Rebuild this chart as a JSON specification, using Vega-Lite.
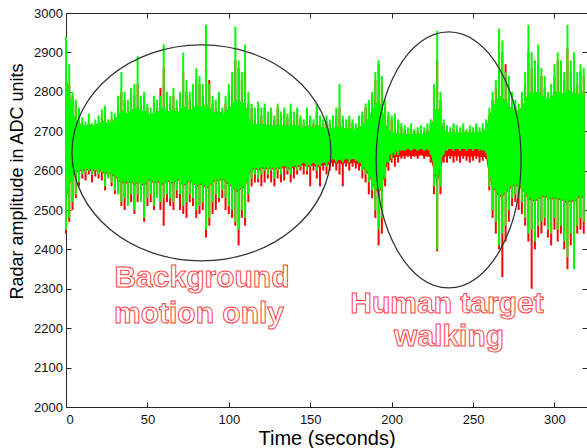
{
  "$schema": "https://vega.github.io/schema/vega-lite/v6.json",
  "width": 521,
  "height": 394,
  "autosize": {"type": "none"},
  "padding": {"left": 66, "top": 13, "right": 0, "bottom": 41},
  "background": "white",
  "config": {
    "view": {"stroke": null},
    "font": "Liberation Sans",
    "axis": {"grid": false, "domainColor": "#262626", "tickColor": "#262626", "labelColor": "#111", "labelFont": "Liberation Sans", "titleFont": "Liberation Sans", "labelFontSize": 13, "titleColor": "#000", "titleFontWeight": "normal", "domainWidth": 1, "tickWidth": 1}
  },
  "datasets": {
    "sig": [
      {"t":0,"gl":2450,"gh":2940,"rl":2440,"rh":2900,"cl":2530,"ch":2840,"rcl":2526},
      {"t":2,"gl":2480,"gh":2870,"rl":2470,"rh":2820,"cl":2560,"ch":2800,"rcl":2557},
      {"t":4,"gl":2520,"gh":2800,"rl":2500,"rh":2790,"cl":2590,"ch":2750,"rcl":2587},
      {"t":6,"gl":2540,"gh":2780,"rl":2530,"rh":2770,"cl":2598,"ch":2728,"rcl":2595},
      {"t":8,"gl":2570,"gh":2760,"rl":2560,"rh":2740,"cl":2600,"ch":2722,"rcl":2597},
      {"t":10,"gl":2590,"gh":2735,"rl":2580,"rh":2720,"cl":2604,"ch":2716,"rcl":2600},
      {"t":12,"gl":2595,"gh":2725,"rl":2575,"rh":2700,"cl":2602,"ch":2712,"rcl":2599},
      {"t":14,"gl":2600,"gh":2745,"rl":2590,"rh":2720,"cl":2606,"ch":2720,"rcl":2603},
      {"t":16,"gl":2590,"gh":2720,"rl":2570,"rh":2710,"cl":2600,"ch":2712,"rcl":2596},
      {"t":18,"gl":2600,"gh":2730,"rl":2585,"rh":2715,"cl":2605,"ch":2716,"rcl":2602},
      {"t":20,"gl":2590,"gh":2740,"rl":2580,"rh":2720,"cl":2598,"ch":2720,"rcl":2595},
      {"t":22,"gl":2595,"gh":2755,"rl":2575,"rh":2735,"cl":2602,"ch":2724,"rcl":2599},
      {"t":24,"gl":2560,"gh":2765,"rl":2550,"rh":2740,"cl":2592,"ch":2726,"rcl":2588},
      {"t":26,"gl":2580,"gh":2730,"rl":2585,"rh":2720,"cl":2598,"ch":2718,"rcl":2595},
      {"t":28,"gl":2570,"gh":2750,"rl":2560,"rh":2730,"cl":2592,"ch":2726,"rcl":2589},
      {"t":30,"gl":2550,"gh":2745,"rl":2540,"rh":2725,"cl":2588,"ch":2728,"rcl":2584},
      {"t":32,"gl":2540,"gh":2790,"rl":2545,"rh":2760,"cl":2578,"ch":2742,"rcl":2575},
      {"t":34,"gl":2520,"gh":2850,"rl":2510,"rh":2800,"cl":2570,"ch":2752,"rcl":2567},
      {"t":36,"gl":2530,"gh":2800,"rl":2500,"rh":2780,"cl":2574,"ch":2748,"rcl":2570},
      {"t":38,"gl":2510,"gh":2780,"rl":2530,"rh":2760,"cl":2568,"ch":2744,"rcl":2565},
      {"t":40,"gl":2540,"gh":2810,"rl":2520,"rh":2795,"cl":2576,"ch":2754,"rcl":2573},
      {"t":42,"gl":2500,"gh":2820,"rl":2490,"rh":2790,"cl":2566,"ch":2756,"rcl":2562},
      {"t":44,"gl":2540,"gh":2890,"rl":2520,"rh":2820,"cl":2572,"ch":2760,"rcl":2569},
      {"t":46,"gl":2520,"gh":2790,"rl":2530,"rh":2770,"cl":2570,"ch":2750,"rcl":2567},
      {"t":48,"gl":2480,"gh":2800,"rl":2470,"rh":2790,"cl":2562,"ch":2754,"rcl":2558},
      {"t":50,"gl":2530,"gh":2770,"rl":2510,"rh":2760,"cl":2576,"ch":2746,"rcl":2573},
      {"t":52,"gl":2540,"gh":2760,"rl":2520,"rh":2740,"cl":2580,"ch":2742,"rcl":2577},
      {"t":54,"gl":2510,"gh":2790,"rl":2500,"rh":2775,"cl":2568,"ch":2750,"rcl":2564},
      {"t":56,"gl":2530,"gh":2780,"rl":2540,"rh":2760,"cl":2574,"ch":2748,"rcl":2571},
      {"t":58,"gl":2520,"gh":2790,"rl":2500,"rh":2810,"cl":2570,"ch":2752,"rcl":2567},
      {"t":60,"gl":2530,"gh":2920,"rl":2460,"rh":2860,"cl":2566,"ch":2762,"rcl":2562},
      {"t":62,"gl":2540,"gh":2800,"rl":2520,"rh":2780,"cl":2576,"ch":2752,"rcl":2573},
      {"t":64,"gl":2530,"gh":2790,"rl":2510,"rh":2770,"cl":2572,"ch":2750,"rcl":2569},
      {"t":66,"gl":2520,"gh":2810,"rl":2500,"rh":2790,"cl":2568,"ch":2756,"rcl":2564},
      {"t":68,"gl":2550,"gh":2780,"rl":2530,"rh":2760,"cl":2580,"ch":2746,"rcl":2577},
      {"t":70,"gl":2540,"gh":2800,"rl":2500,"rh":2790,"cl":2574,"ch":2752,"rcl":2571},
      {"t":72,"gl":2510,"gh":2900,"rl":2490,"rh":2850,"cl":2564,"ch":2764,"rcl":2560},
      {"t":74,"gl":2520,"gh":2830,"rl":2480,"rh":2800,"cl":2568,"ch":2758,"rcl":2565},
      {"t":76,"gl":2540,"gh":2800,"rl":2520,"rh":2780,"cl":2576,"ch":2752,"rcl":2573},
      {"t":78,"gl":2530,"gh":2820,"rl":2510,"rh":2790,"cl":2572,"ch":2758,"rcl":2569},
      {"t":80,"gl":2500,"gh":2860,"rl":2480,"rh":2830,"cl":2562,"ch":2766,"rcl":2558},
      {"t":82,"gl":2510,"gh":2840,"rl":2490,"rh":2820,"cl":2566,"ch":2764,"rcl":2563},
      {"t":84,"gl":2520,"gh":2820,"rl":2500,"rh":2790,"cl":2568,"ch":2760,"rcl":2565},
      {"t":86,"gl":2450,"gh":2970,"rl":2430,"rh":2880,"cl":2556,"ch":2772,"rcl":2552},
      {"t":88,"gl":2480,"gh":2820,"rl":2460,"rh":2830,"cl":2562,"ch":2760,"rcl":2559},
      {"t":90,"gl":2520,"gh":2790,"rl":2490,"rh":2770,"cl":2572,"ch":2750,"rcl":2569},
      {"t":92,"gl":2540,"gh":2780,"rl":2500,"rh":2760,"cl":2578,"ch":2746,"rcl":2575},
      {"t":94,"gl":2530,"gh":2800,"rl":2520,"rh":2790,"cl":2574,"ch":2752,"rcl":2571},
      {"t":96,"gl":2550,"gh":2760,"rl":2530,"rh":2750,"cl":2582,"ch":2742,"rcl":2579},
      {"t":98,"gl":2530,"gh":2790,"rl":2500,"rh":2770,"cl":2574,"ch":2750,"rcl":2570},
      {"t":100,"gl":2510,"gh":2820,"rl":2490,"rh":2800,"cl":2566,"ch":2758,"rcl":2563},
      {"t":102,"gl":2500,"gh":2850,"rl":2480,"rh":2810,"cl":2560,"ch":2766,"rcl":2557},
      {"t":104,"gl":2470,"gh":2965,"rl":2460,"rh":2880,"cl":2552,"ch":2778,"rcl":2548},
      {"t":106,"gl":2450,"gh":2880,"rl":2410,"rh":2860,"cl":2548,"ch":2780,"rcl":2545},
      {"t":108,"gl":2500,"gh":2850,"rl":2480,"rh":2830,"cl":2560,"ch":2770,"rcl":2557},
      {"t":110,"gl":2480,"gh":2920,"rl":2460,"rh":2850,"cl":2558,"ch":2772,"rcl":2554},
      {"t":112,"gl":2540,"gh":2800,"rl":2520,"rh":2770,"cl":2588,"ch":2738,"rcl":2585},
      {"t":114,"gl":2580,"gh":2770,"rl":2560,"rh":2760,"cl":2604,"ch":2720,"rcl":2600},
      {"t":116,"gl":2590,"gh":2760,"rl":2570,"rh":2745,"cl":2608,"ch":2716,"rcl":2604},
      {"t":118,"gl":2580,"gh":2775,"rl":2570,"rh":2760,"cl":2604,"ch":2720,"rcl":2600},
      {"t":120,"gl":2590,"gh":2760,"rl":2560,"rh":2740,"cl":2608,"ch":2716,"rcl":2603},
      {"t":122,"gl":2600,"gh":2770,"rl":2570,"rh":2760,"cl":2610,"ch":2718,"rcl":2606},
      {"t":124,"gl":2590,"gh":2750,"rl":2580,"rh":2740,"cl":2606,"ch":2714,"rcl":2602},
      {"t":126,"gl":2600,"gh":2760,"rl":2570,"rh":2750,"cl":2610,"ch":2716,"rcl":2606},
      {"t":128,"gl":2580,"gh":2740,"rl":2560,"rh":2730,"cl":2604,"ch":2712,"rcl":2600},
      {"t":130,"gl":2600,"gh":2770,"rl":2580,"rh":2760,"cl":2610,"ch":2718,"rcl":2606},
      {"t":132,"gl":2590,"gh":2750,"rl":2570,"rh":2740,"cl":2606,"ch":2714,"rcl":2602},
      {"t":134,"gl":2610,"gh":2760,"rl":2575,"rh":2745,"cl":2614,"ch":2716,"rcl":2609},
      {"t":136,"gl":2600,"gh":2745,"rl":2590,"rh":2735,"cl":2610,"ch":2712,"rcl":2606},
      {"t":138,"gl":2590,"gh":2770,"rl":2570,"rh":2750,"cl":2606,"ch":2718,"rcl":2602},
      {"t":140,"gl":2610,"gh":2750,"rl":2580,"rh":2740,"cl":2614,"ch":2714,"rcl":2609},
      {"t":142,"gl":2600,"gh":2760,"rl":2590,"rh":2745,"cl":2612,"ch":2716,"rcl":2608},
      {"t":144,"gl":2610,"gh":2740,"rl":2600,"rh":2730,"cl":2616,"ch":2712,"rcl":2611},
      {"t":146,"gl":2620,"gh":2730,"rl":2590,"rh":2720,"cl":2620,"ch":2708,"rcl":2614},
      {"t":148,"gl":2600,"gh":2760,"rl":2590,"rh":2750,"cl":2612,"ch":2716,"rcl":2608},
      {"t":150,"gl":2610,"gh":2740,"rl":2560,"rh":2730,"cl":2616,"ch":2712,"rcl":2610},
      {"t":152,"gl":2620,"gh":2730,"rl":2600,"rh":2720,"cl":2620,"ch":2708,"rcl":2614},
      {"t":154,"gl":2600,"gh":2770,"rl":2580,"rh":2750,"cl":2612,"ch":2718,"rcl":2607},
      {"t":156,"gl":2610,"gh":2740,"rl":2560,"rh":2730,"cl":2616,"ch":2712,"rcl":2610},
      {"t":158,"gl":2620,"gh":2730,"rl":2600,"rh":2720,"cl":2620,"ch":2708,"rcl":2614},
      {"t":160,"gl":2610,"gh":2740,"rl":2590,"rh":2725,"cl":2620,"ch":2710,"rcl":2613},
      {"t":162,"gl":2620,"gh":2730,"rl":2600,"rh":2720,"cl":2624,"ch":2706,"rcl":2617},
      {"t":164,"gl":2630,"gh":2740,"rl":2610,"rh":2730,"cl":2630,"ch":2708,"rcl":2621},
      {"t":166,"gl":2620,"gh":2760,"rl":2600,"rh":2740,"cl":2624,"ch":2710,"rcl":2616},
      {"t":168,"gl":2630,"gh":2820,"rl":2590,"rh":2760,"cl":2628,"ch":2714,"rcl":2620},
      {"t":170,"gl":2620,"gh":2740,"rl":2560,"rh":2730,"cl":2624,"ch":2708,"rcl":2615},
      {"t":172,"gl":2630,"gh":2730,"rl":2610,"rh":2720,"cl":2630,"ch":2706,"rcl":2621},
      {"t":174,"gl":2620,"gh":2740,"rl":2600,"rh":2730,"cl":2626,"ch":2708,"rcl":2617},
      {"t":176,"gl":2630,"gh":2730,"rl":2610,"rh":2720,"cl":2630,"ch":2706,"rcl":2620},
      {"t":178,"gl":2625,"gh":2720,"rl":2605,"rh":2710,"cl":2628,"ch":2704,"rcl":2619},
      {"t":180,"gl":2620,"gh":2740,"rl":2600,"rh":2730,"cl":2622,"ch":2710,"rcl":2614},
      {"t":182,"gl":2600,"gh":2750,"rl":2580,"rh":2740,"cl":2614,"ch":2716,"rcl":2608},
      {"t":184,"gl":2590,"gh":2770,"rl":2570,"rh":2760,"cl":2604,"ch":2724,"rcl":2599},
      {"t":186,"gl":2570,"gh":2780,"rl":2540,"rh":2770,"cl":2592,"ch":2734,"rcl":2588},
      {"t":188,"gl":2550,"gh":2800,"rl":2530,"rh":2790,"cl":2572,"ch":2752,"rcl":2568},
      {"t":190,"gl":2500,"gh":2850,"rl":2480,"rh":2830,"cl":2556,"ch":2768,"rcl":2552},
      {"t":192,"gl":2450,"gh":2880,"rl":2410,"rh":2870,"cl":2546,"ch":2778,"rcl":2542},
      {"t":194,"gl":2480,"gh":2840,"rl":2440,"rh":2820,"cl":2558,"ch":2762,"rcl":2554},
      {"t":196,"gl":2580,"gh":2780,"rl":2560,"rh":2760,"cl":2606,"ch":2720,"rcl":2598},
      {"t":198,"gl":2620,"gh":2750,"rl":2600,"rh":2740,"cl":2638,"ch":2704,"rcl":2624},
      {"t":200,"gl":2630,"gh":2740,"rl":2620,"rh":2730,"cl":2644,"ch":2698,"rcl":2630},
      {"t":202,"gl":2640,"gh":2745,"rl":2610,"rh":2735,"cl":2648,"ch":2696,"rcl":2634},
      {"t":204,"gl":2640,"gh":2730,"rl":2620,"rh":2720,"cl":2650,"ch":2694,"rcl":2635},
      {"t":206,"gl":2650,"gh":2720,"rl":2630,"rh":2710,"cl":2652,"ch":2694,"rcl":2636},
      {"t":208,"gl":2650,"gh":2715,"rl":2630,"rh":2705,"cl":2653,"ch":2693,"rcl":2637},
      {"t":210,"gl":2655,"gh":2710,"rl":2635,"rh":2700,"cl":2655,"ch":2692,"rcl":2638},
      {"t":212,"gl":2650,"gh":2720,"rl":2630,"rh":2705,"cl":2653,"ch":2695,"rcl":2636},
      {"t":214,"gl":2655,"gh":2705,"rl":2635,"rh":2700,"cl":2655,"ch":2691,"rcl":2639},
      {"t":216,"gl":2650,"gh":2710,"rl":2630,"rh":2700,"cl":2653,"ch":2693,"rcl":2636},
      {"t":218,"gl":2655,"gh":2715,"rl":2640,"rh":2705,"cl":2655,"ch":2694,"rcl":2639},
      {"t":220,"gl":2650,"gh":2710,"rl":2630,"rh":2700,"cl":2653,"ch":2692,"rcl":2636},
      {"t":222,"gl":2655,"gh":2720,"rl":2635,"rh":2705,"cl":2654,"ch":2696,"rcl":2638},
      {"t":224,"gl":2640,"gh":2730,"rl":2620,"rh":2720,"cl":2646,"ch":2702,"rcl":2632},
      {"t":226,"gl":2560,"gh":2820,"rl":2540,"rh":2790,"cl":2605,"ch":2740,"rcl":2596},
      {"t":228,"gl":2400,"gh":2955,"rl":2395,"rh":2880,"cl":2570,"ch":2770,"rcl":2564},
      {"t":230,"gl":2560,"gh":2800,"rl":2540,"rh":2780,"cl":2615,"ch":2728,"rcl":2604},
      {"t":232,"gl":2640,"gh":2730,"rl":2620,"rh":2720,"cl":2648,"ch":2702,"rcl":2634},
      {"t":234,"gl":2650,"gh":2715,"rl":2620,"rh":2705,"cl":2654,"ch":2698,"rcl":2637},
      {"t":236,"gl":2655,"gh":2710,"rl":2630,"rh":2700,"cl":2656,"ch":2696,"rcl":2638},
      {"t":238,"gl":2650,"gh":2720,"rl":2620,"rh":2705,"cl":2654,"ch":2698,"rcl":2636},
      {"t":240,"gl":2655,"gh":2715,"rl":2625,"rh":2705,"cl":2656,"ch":2697,"rcl":2637},
      {"t":242,"gl":2650,"gh":2710,"rl":2620,"rh":2700,"cl":2654,"ch":2696,"rcl":2635},
      {"t":244,"gl":2655,"gh":2720,"rl":2630,"rh":2705,"cl":2656,"ch":2698,"rcl":2638},
      {"t":246,"gl":2650,"gh":2705,"rl":2625,"rh":2700,"cl":2654,"ch":2695,"rcl":2636},
      {"t":248,"gl":2655,"gh":2715,"rl":2620,"rh":2705,"cl":2656,"ch":2697,"rcl":2635},
      {"t":250,"gl":2650,"gh":2710,"rl":2625,"rh":2700,"cl":2654,"ch":2696,"rcl":2636},
      {"t":252,"gl":2655,"gh":2720,"rl":2630,"rh":2710,"cl":2656,"ch":2699,"rcl":2638},
      {"t":254,"gl":2650,"gh":2710,"rl":2620,"rh":2700,"cl":2654,"ch":2697,"rcl":2634},
      {"t":256,"gl":2650,"gh":2720,"rl":2625,"rh":2705,"cl":2654,"ch":2699,"rcl":2635},
      {"t":258,"gl":2645,"gh":2730,"rl":2630,"rh":2720,"cl":2648,"ch":2705,"rcl":2634},
      {"t":260,"gl":2560,"gh":2760,"rl":2550,"rh":2740,"cl":2590,"ch":2736,"rcl":2584},
      {"t":262,"gl":2500,"gh":2800,"rl":2480,"rh":2780,"cl":2560,"ch":2762,"rcl":2556},
      {"t":264,"gl":2470,"gh":2830,"rl":2440,"rh":2810,"cl":2548,"ch":2774,"rcl":2545},
      {"t":266,"gl":2410,"gh":2960,"rl":2400,"rh":2930,"cl":2536,"ch":2790,"rcl":2532},
      {"t":268,"gl":2440,"gh":2930,"rl":2330,"rh":2900,"cl":2538,"ch":2786,"rcl":2535},
      {"t":270,"gl":2460,"gh":2850,"rl":2420,"rh":2870,"cl":2546,"ch":2776,"rcl":2542},
      {"t":272,"gl":2500,"gh":2840,"rl":2470,"rh":2810,"cl":2554,"ch":2766,"rcl":2551},
      {"t":274,"gl":2530,"gh":2800,"rl":2510,"rh":2780,"cl":2562,"ch":2756,"rcl":2558},
      {"t":276,"gl":2540,"gh":2780,"rl":2520,"rh":2760,"cl":2566,"ch":2752,"rcl":2563},
      {"t":278,"gl":2530,"gh":2770,"rl":2500,"rh":2750,"cl":2562,"ch":2752,"rcl":2558},
      {"t":280,"gl":2520,"gh":2800,"rl":2490,"rh":2780,"cl":2556,"ch":2762,"rcl":2553},
      {"t":282,"gl":2480,"gh":2850,"rl":2460,"rh":2820,"cl":2544,"ch":2778,"rcl":2540},
      {"t":284,"gl":2440,"gh":2970,"rl":2420,"rh":2900,"cl":2530,"ch":2798,"rcl":2527},
      {"t":286,"gl":2450,"gh":2900,"rl":2300,"rh":2860,"cl":2528,"ch":2800,"rcl":2524},
      {"t":288,"gl":2420,"gh":2880,"rl":2400,"rh":2840,"cl":2524,"ch":2796,"rcl":2521},
      {"t":290,"gl":2460,"gh":2920,"rl":2430,"rh":2870,"cl":2530,"ch":2802,"rcl":2526},
      {"t":292,"gl":2470,"gh":2860,"rl":2440,"rh":2840,"cl":2534,"ch":2792,"rcl":2531},
      {"t":294,"gl":2480,"gh":2840,"rl":2460,"rh":2810,"cl":2538,"ch":2786,"rcl":2534},
      {"t":296,"gl":2450,"gh":2800,"rl":2430,"rh":2780,"cl":2532,"ch":2780,"rcl":2529},
      {"t":298,"gl":2440,"gh":2820,"rl":2410,"rh":2790,"cl":2528,"ch":2786,"rcl":2524},
      {"t":300,"gl":2480,"gh":2870,"rl":2450,"rh":2840,"cl":2534,"ch":2796,"rcl":2531},
      {"t":302,"gl":2450,"gh":2900,"rl":2420,"rh":2880,"cl":2528,"ch":2802,"rcl":2525},
      {"t":304,"gl":2460,"gh":2880,"rl":2440,"rh":2860,"cl":2530,"ch":2798,"rcl":2526},
      {"t":306,"gl":2420,"gh":2850,"rl":2400,"rh":2830,"cl":2524,"ch":2792,"rcl":2521},
      {"t":308,"gl":2380,"gh":2970,"rl":2350,"rh":2910,"cl":2520,"ch":2806,"rcl":2516},
      {"t":310,"gl":2440,"gh":2880,"rl":2410,"rh":2850,"cl":2528,"ch":2798,"rcl":2525},
      {"t":312,"gl":2350,"gh":2900,"rl":2380,"rh":2870,"cl":2520,"ch":2800,"rcl":2517},
      {"t":314,"gl":2460,"gh":2850,"rl":2440,"rh":2820,"cl":2532,"ch":2792,"rcl":2528},
      {"t":316,"gl":2480,"gh":2870,"rl":2450,"rh":2850,"cl":2536,"ch":2796,"rcl":2533},
      {"t":318,"gl":2470,"gh":2860,"rl":2440,"rh":2840,"cl":2532,"ch":2794,"rcl":2529}
    ],
    "ann": [
      {"kind": "ellipse1", "t": 83.2, "v": 2645},
      {"kind": "ellipse2", "t": 235, "v": 2627},
      {"kind": "text", "t": 83.5, "v": 2305, "label": "Background"},
      {"kind": "text", "t": 81.7, "v": 2214, "label": "motion only"},
      {"kind": "text", "t": 234, "v": 2238, "label": "Human target"},
      {"kind": "text", "t": 235.3, "v": 2155, "label": "walking"}
    ]
  },
  "layer": [
    {
      "data": {"name": "sig"},
      "mark": {"type": "area", "color": "#ff0000", "opacity": 1, "interpolate": "linear"},
      "encoding": {
        "x": {"field": "t", "type": "quantitative", "scale": {"domain": [0, 320], "nice": false, "zero": false},
              "axis": {"orient": "bottom", "values": [0, 50, 100, 150, 200, 250, 300], "ticks": false, "tickSize": 0, "title": "Time (seconds)", "titleFontSize": 20, "labelPadding": 6, "titlePadding": 2}},
        "y": {"field": "rcl", "type": "quantitative", "scale": {"domain": [2000, 3000], "nice": false, "zero": false},
              "axis": {"orient": "left", "values": [2000, 2100, 2200, 2300, 2400, 2500, 2600, 2700, 2800, 2900, 3000], "format": "d", "ticks": false, "tickSize": 0, "title": "Radar amplitude in ADC units", "titleFontSize": 18, "labelPadding": 3.5, "titlePadding": 7, "titleY": 168}},
        "y2": {"field": "ch"}
      }
    },
    {
      "data": {"name": "sig"},
      "mark": {"type": "rule", "color": "#ff0000", "strokeWidth": 2},
      "encoding": {
        "x": {"field": "t", "type": "quantitative", "axis": {"orient": "top", "values": [0, 50, 100, 150, 200, 250, 300], "labels": false, "ticks": false, "title": null}},
        "y": {"field": "rl", "type": "quantitative", "axis": {"orient": "right", "values": [2000, 2100, 2200, 2300, 2400, 2500, 2600, 2700, 2800, 2900, 3000], "labels": false, "ticks": false, "title": null}},
        "y2": {"field": "rh"}
      }
    },
    {
      "data": {"name": "sig"},
      "mark": {"type": "area", "color": "#00ff00", "opacity": 1, "interpolate": "linear"},
      "encoding": {
        "x": {"field": "t", "type": "quantitative", "axis": {"orient": "bottom", "offset": -5, "values": [0, 50, 100, 150, 200, 250, 300], "labels": false, "domain": false, "tickSize": 5, "title": null}},
        "y": {"field": "cl", "type": "quantitative", "axis": {"orient": "left", "offset": -5, "values": [2000, 2100, 2200, 2300, 2400, 2500, 2600, 2700, 2800, 2900, 3000], "labels": false, "domain": false, "tickSize": 5, "title": null}},
        "y2": {"field": "ch"}
      }
    },
    {
      "data": {"name": "sig"},
      "mark": {"type": "rule", "color": "#00ff00", "strokeWidth": 2},
      "encoding": {
        "x": {"field": "t", "type": "quantitative", "axis": {"orient": "top", "offset": -5, "values": [0, 50, 100, 150, 200, 250, 300], "labels": false, "domain": false, "tickSize": 5, "title": null}},
        "y": {"field": "gl", "type": "quantitative", "axis": {"orient": "right", "offset": -5, "values": [2000, 2100, 2200, 2300, 2400, 2500, 2600, 2700, 2800, 2900, 3000], "labels": false, "domain": false, "tickSize": 5, "title": null}},
        "y2": {"field": "gh"}
      }
    },
    {
      "data": {"name": "ann"},
      "transform": [{"filter": "datum.kind === 'ellipse1'"}],
      "mark": {"type": "point", "shape": "M1,0C1,0.4606,0.5523,0.834,0,0.834C-0.5523,0.834,-1,0.4606,-1,0C-1,-0.4606,-0.5523,-0.834,0,-0.834C0.5523,-0.834,1,-0.4606,1,0Z", "size": 67081, "filled": false, "stroke": "#333", "strokeWidth": 1.3, "opacity": 1},
      "encoding": {"x": {"field": "t", "type": "quantitative", "axis": null}, "y": {"field": "v", "type": "quantitative", "axis": null}}
    },
    {
      "data": {"name": "ann"},
      "transform": [{"filter": "datum.kind === 'ellipse2'"}],
      "mark": {"type": "point", "shape": "M0.566,0C0.566,0.5523,0.3126,1,0,1C-0.3126,1,-0.566,0.5523,-0.566,0C-0.566,-0.5523,-0.3126,-1,0,-1C0.3126,-1,0.566,-0.5523,0.566,0Z", "size": 65536, "filled": false, "stroke": "#333", "strokeWidth": 1.3, "opacity": 1},
      "encoding": {"x": {"field": "t", "type": "quantitative", "axis": null}, "y": {"field": "v", "type": "quantitative", "axis": null}}
    },
    {
      "data": {"name": "ann"},
      "transform": [{"filter": "datum.kind === 'text'"}],
      "mark": {"type": "text", "font": "Liberation Sans", "fontSize": 30, "fontWeight": "bold", "align": "center", "baseline": "alphabetic", "fill": "white", "stroke": "#ff4040", "strokeWidth": 1},
      "encoding": {"x": {"field": "t", "type": "quantitative", "axis": null}, "y": {"field": "v", "type": "quantitative", "axis": null}, "text": {"field": "label"}}
    }
  ],
  "resolve": {"axis": {"x": "independent", "y": "independent"}}
}
